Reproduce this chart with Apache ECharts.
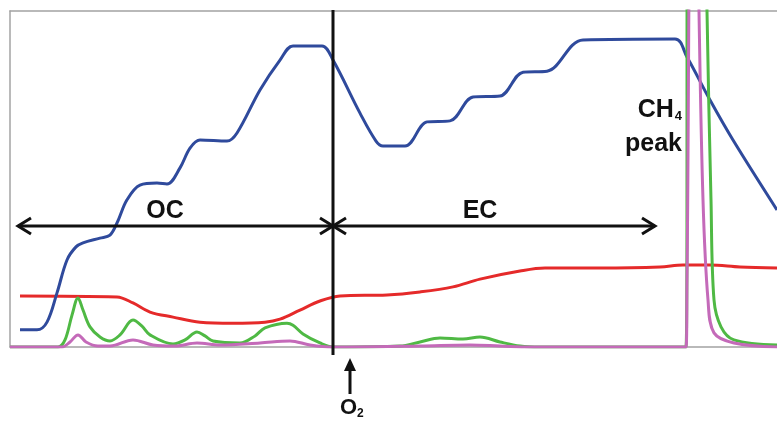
<!DOCTYPE html>
<html>
<head>
<meta charset="utf-8">
<script src="https://cdn.jsdelivr.net/npm/echarts@6/dist/echarts.min.js"></script>
<style>
  html, body { margin: 0; padding: 0; background: #fff; }
  #chart { width: 777px; height: 426px; }
</style>
</head>
<body>
<div id="chart"></div>
<script>
// Thermal-optical carbon analysis thermogram: [time, signal] pairs
const transmittance = [
  [10, 5.1], [27, 5.1], [37, 7.4], [47, 16.1], [57, 25.9], [66, 29.8], [73, 31.0],
  [90, 32.4], [100, 33.3], [107, 36.9], [117, 43.8], [130, 48.2], [147, 48.8],
  [157, 48.5], [170, 53.3], [180, 59.2], [190, 61.6], [217, 61.3], [227, 63.7],
  [250, 76.5], [270, 85.4], [283, 89.6], [312, 89.6], [323, 85.4], [350, 69.6],
  [366, 61.3], [373, 59.8], [395, 59.8], [417, 67.0], [440, 67.3], [463, 74.4],
  [490, 74.7], [513, 81.8], [537, 82.1], [573, 91.4], [665, 91.7], [677, 86.3],
  [700, 73.5], [723, 61.6], [767, 40.8]
];
const temperature = [
  [10, 15.2], [107, 14.9], [123, 13.1], [140, 10.4], [163, 8.9], [190, 7.4],
  [223, 7.1], [255, 7.4], [270, 8.3], [290, 11.0], [310, 13.7], [330, 15.2],
  [377, 15.5], [410, 16.4], [443, 17.9], [470, 20.2], [510, 22.6], [535, 23.5],
  [590, 23.5], [650, 23.8], [673, 24.4], [700, 24.4], [730, 23.8], [767, 23.5]
];
const fidSignal = [
  [0, 0], [48, 0], [55, 2.1], [62, 9.5], [68, 14.6], [73, 11.0], [80, 6.0],
  [90, 3.0], [100, 1.8], [110, 3.6], [123, 8.0], [132, 6.2], [140, 3.6],
  [163, 0.9], [175, 2.1], [187, 4.5], [195, 3.3], [203, 1.8], [230, 1.2],
  [245, 3.3], [255, 5.7], [277, 7.1], [283, 6.5], [293, 3.9], [310, 1.2],
  [323, 0], [390, 0.3], [410, 1.5], [430, 2.7], [453, 2.4], [470, 3.0],
  [490, 1.5], [510, 0.3], [530, 0], [676, 0], [678, 150], [695, 150],
  [697, 100], [701, 43.8], [704, 14.0], [711, 6.0], [724, 2.1], [767, 0.6]
];
const fidSecondary = [
  [0, 0], [52, 0], [60, 1.5], [68, 3.6], [76, 1.5], [88, 0.3], [100, 0.3],
  [123, 2.1], [143, 0.6], [165, 0.3], [187, 1.2], [210, 0.6], [250, 1.2],
  [280, 1.8], [300, 0.6], [323, 0], [410, 0.3], [460, 0.6], [490, 0.3],
  [520, 0], [676, 0], [677, 20], [682, 150], [687, 150], [689, 100], [693, 43.8],
  [698, 14.0], [704, 4.2], [724, 1.2], [767, 0]
];

// Phase markers and labels (time, signal)
const oxygenSwitch = 323;
const phaseArrowLevel = 36;
const ocSpan = [8, 323];
const ecSpan = [323, 645];
const phaseLabels = [
  { text: 'OC', at: [155, 36.8] },
  { text: 'EC', at: [470, 36.8] }
];
const methaneLabelAt = [672, 75.5];
const oxygenLabelAt = [330, -18.2];

const chart = echarts.init(document.getElementById('chart'));

function lineSeries(data, color, z) {
  return {
    type: 'line', data: data, smooth: 0.35, symbol: 'none', z: z,
    lineStyle: { color: color, width: 3 }, clip: true, silent: true
  };
}

const frameLine = { show: true, onZero: false, lineStyle: { color: '#a3a3a3', width: 1.5 } };
const hidden = { show: false };

chart.setOption({
  animation: false,
  backgroundColor: '#ffffff',
  grid: { left: 10, top: 11, right: 0, bottom: 79 },
  xAxis: [
    { type: 'value', min: 0, max: 767, position: 'bottom', axisLine: frameLine,
      axisTick: hidden, axisLabel: hidden, splitLine: hidden },
    { type: 'value', min: 0, max: 767, position: 'top', axisLine: frameLine,
      axisTick: hidden, axisLabel: hidden, splitLine: hidden }
  ],
  yAxis: {
    type: 'value', min: 0, max: 100, axisLine: frameLine,
    axisTick: hidden, axisLabel: hidden, splitLine: hidden
  },
  series: [
    lineSeries(temperature, '#e52a2a', 2),
    lineSeries(transmittance, '#2f4a9c', 3),
    lineSeries(fidSignal, '#4fb944', 4),
    lineSeries(fidSecondary, '#c46ab9', 5)
  ]
});

const px = (pt) => chart.convertToPixel({ xAxisIndex: 0, yAxisIndex: 0 }, pt);
const ink = '#111111';
const font = '"Liberation Sans", Arial, sans-serif';

function chevron(tip, dir) {
  const d = 13 * dir;
  return {
    type: 'polyline', z: 20, silent: true,
    shape: { points: [[tip[0] + d, tip[1] - 8], tip, [tip[0] + d, tip[1] + 8]] },
    style: { stroke: ink, lineWidth: 3, fill: null, lineJoin: 'miter' }
  };
}

const graphics = [];
// Oxygen switch divider
const divTop = px([oxygenSwitch, 100]);
const divBot = px([oxygenSwitch, 0]);
graphics.push({
  type: 'line', z: 20, silent: true,
  shape: { x1: divTop[0], y1: divTop[1] - 1, x2: divBot[0], y2: divBot[1] + 8 },
  style: { stroke: ink, lineWidth: 3 }
});
// Phase span arrows
[ocSpan, ecSpan].forEach(function (span) {
  const a = px([span[0], phaseArrowLevel]);
  const b = px([span[1], phaseArrowLevel]);
  graphics.push({
    type: 'line', z: 20, silent: true,
    shape: { x1: a[0], y1: a[1], x2: b[0], y2: b[1] },
    style: { stroke: ink, lineWidth: 3 }
  });
  graphics.push(chevron(a, 1));
  graphics.push(chevron(b, -1));
});
// Phase labels
phaseLabels.forEach(function (l) {
  const p = px(l.at);
  graphics.push({
    type: 'text', z: 21, silent: true, x: p[0], y: p[1],
    style: {
      text: l.text, fill: ink, font: 'bold 25px ' + font,
      align: 'center', verticalAlign: 'bottom'
    }
  });
});
// Methane peak label
const mp = px(methaneLabelAt);
graphics.push({
  type: 'text', z: 21, silent: true, x: mp[0], y: mp[1],
  style: {
    text: '{b|CH}{s|4}\n{b|peak}', align: 'right', verticalAlign: 'top',
    lineHeight: 34, fill: ink,
    rich: {
      b: { font: 'bold 25px ' + font, fill: ink, lineHeight: 34 },
      s: { font: 'bold 13px ' + font, fill: ink, padding: [12, 0, 0, 1], lineHeight: 34 }
    }
  }
});
// Oxygen introduction arrow and label
const op = px(oxygenLabelAt);
const arrowX = op[0] + 10;
const tipY = divBot[1] + 11;
graphics.push({
  type: 'line', z: 20, silent: true,
  shape: { x1: arrowX, y1: tipY + 8, x2: arrowX, y2: tipY + 36 },
  style: { stroke: ink, lineWidth: 3 }
});
graphics.push({
  type: 'polygon', z: 20, silent: true,
  shape: { points: [[arrowX, tipY], [arrowX - 6, tipY + 13], [arrowX + 6, tipY + 13]] },
  style: { fill: ink }
});
graphics.push({
  type: 'text', z: 21, silent: true, x: op[0], y: op[1],
  style: {
    text: '{b|O}{s|2}', align: 'left', verticalAlign: 'middle', fill: ink,
    rich: {
      b: { font: 'bold 22px ' + font, fill: ink },
      s: { font: 'bold 12px ' + font, fill: ink, padding: [12, 0, 0, 0] }
    }
  }
});

chart.setOption({ graphic: graphics });
</script>
</body>
</html>
